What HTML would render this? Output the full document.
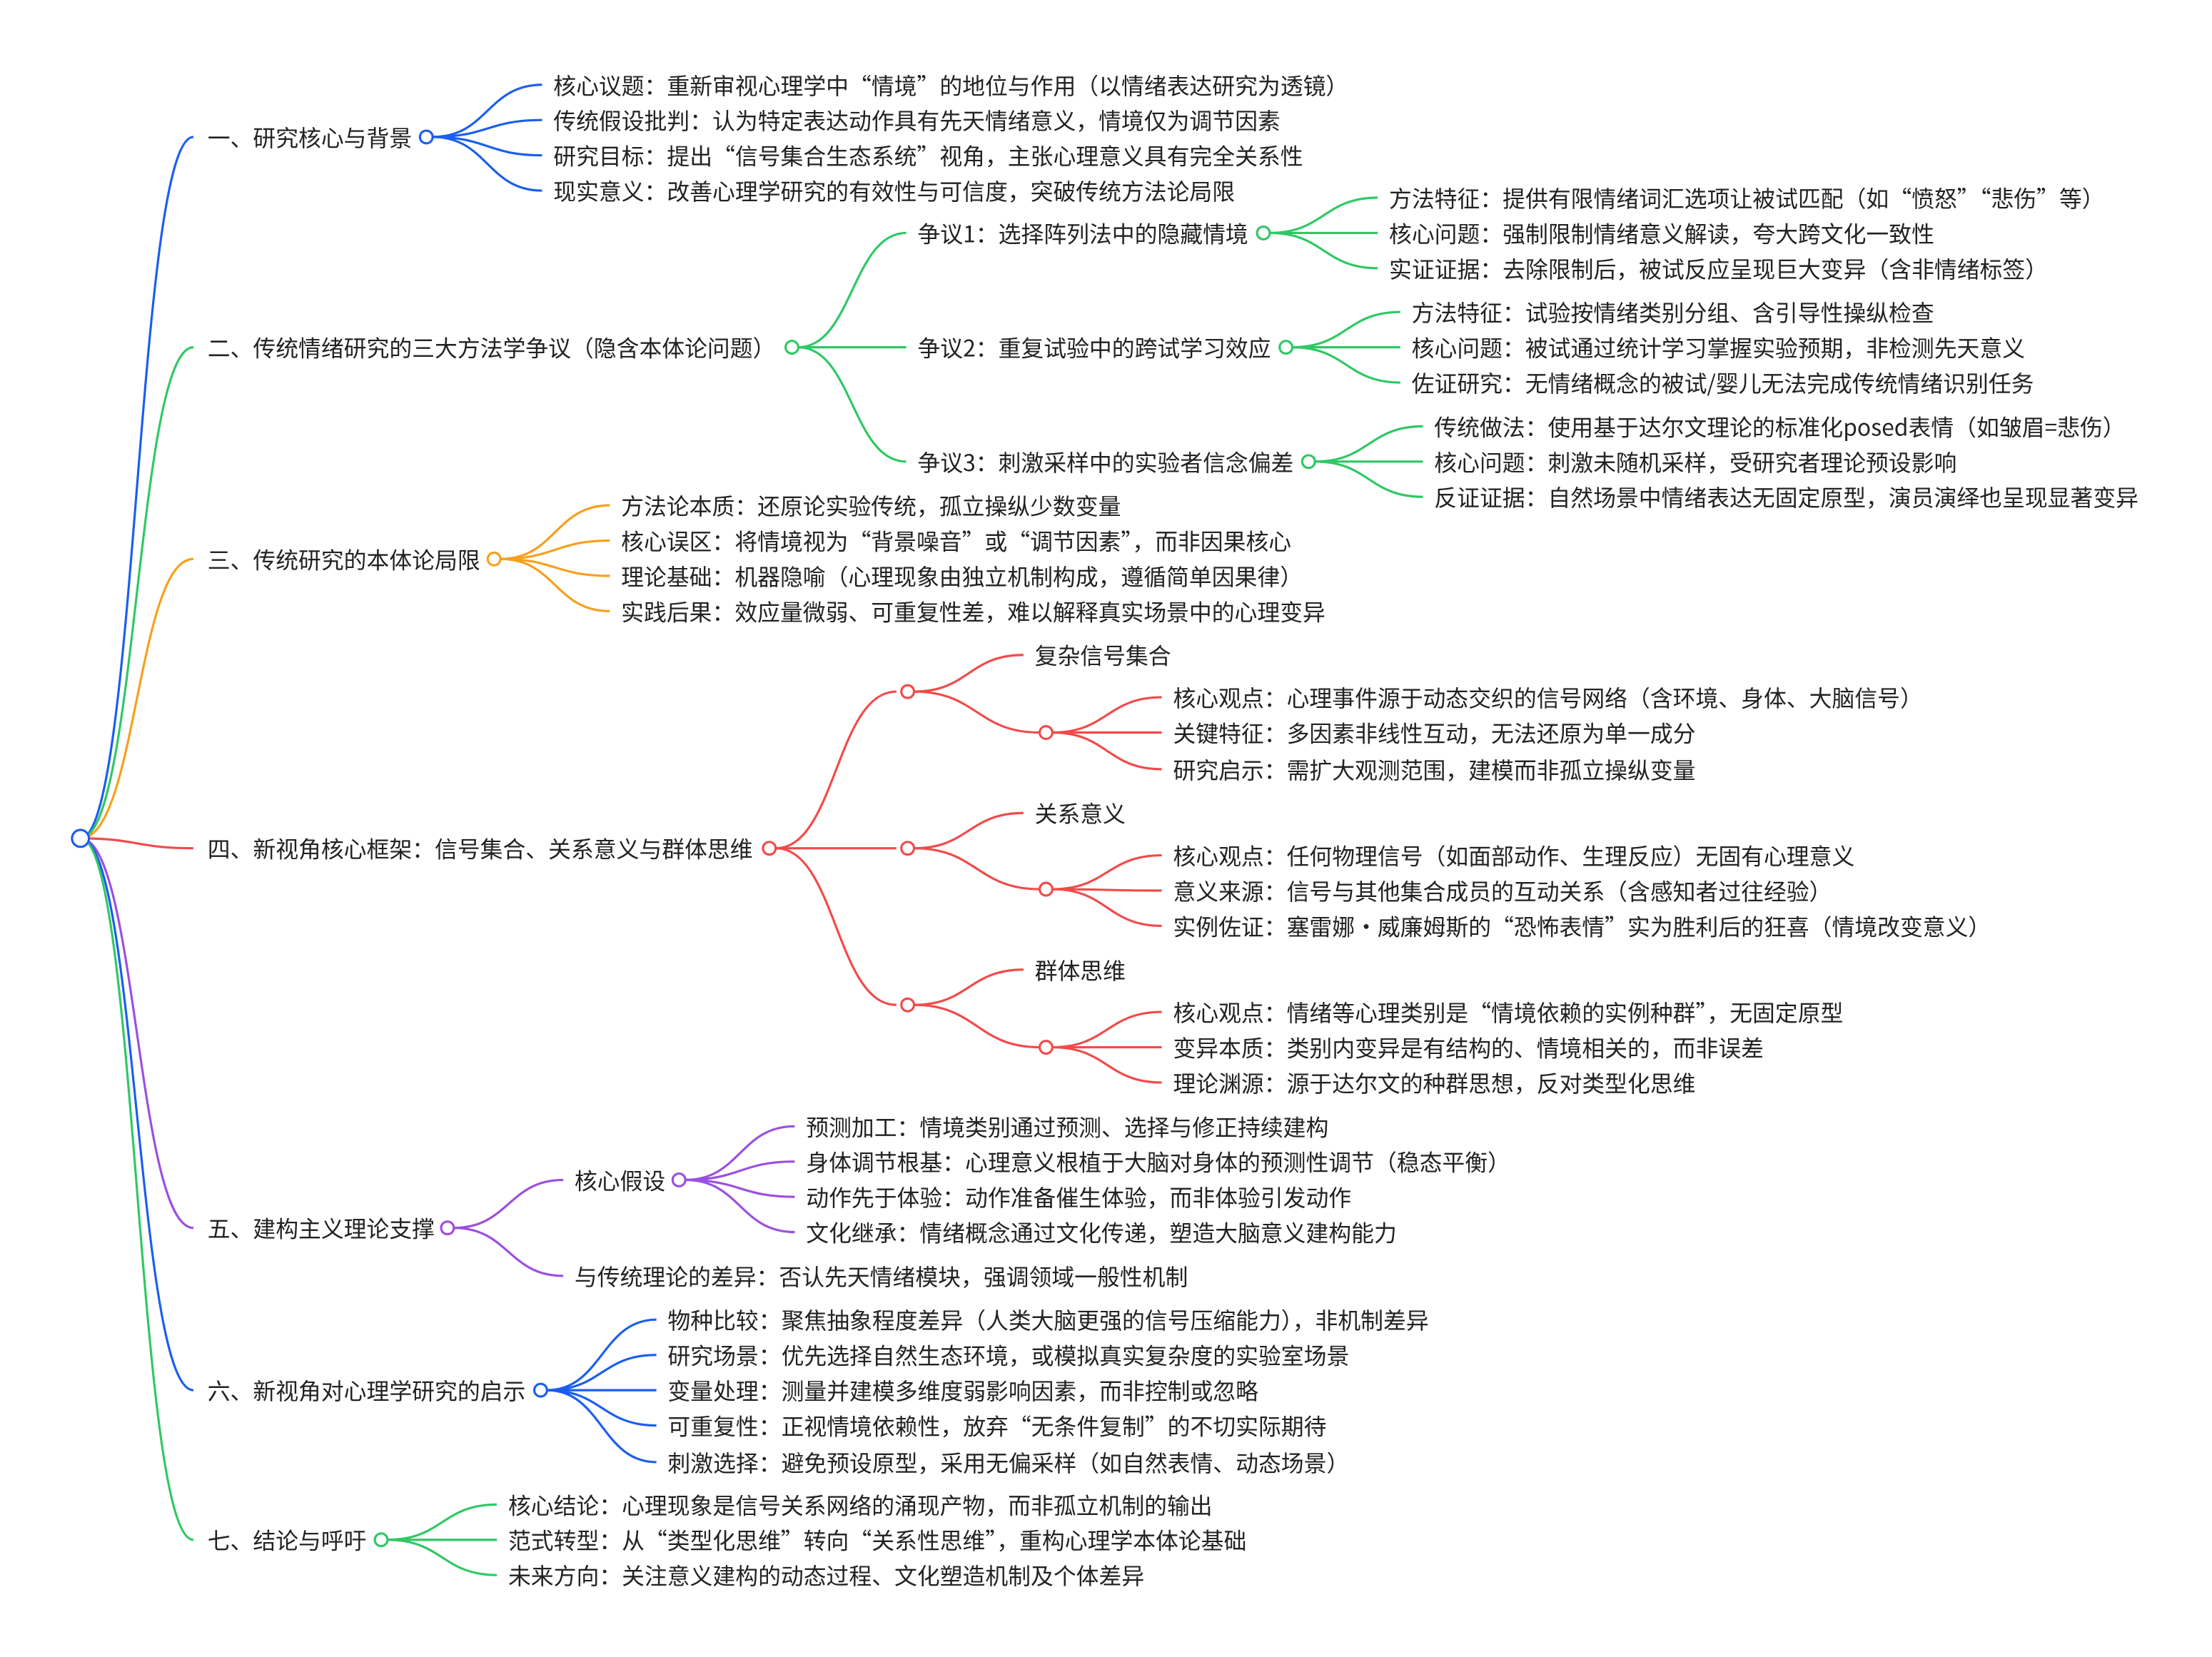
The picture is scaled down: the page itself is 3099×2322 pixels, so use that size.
<!DOCTYPE html>
<html><head><meta charset="utf-8"><style>
html,body{margin:0;padding:0;background:#fff;}
svg{display:block}
text{font-family:"Noto Sans CJK SC","Liberation Sans",sans-serif;font-size:16.1px;fill:#222;dominant-baseline:central}
</style></head><body>
<svg id="s" width="3099" height="2322" viewBox="0 0 1567 1174" xmlns="http://www.w3.org/2000/svg">
<g id="lines" fill="none" stroke-width="1.6"></g>
<g id="circ" fill="#fff" stroke-width="1.6"></g>
<text x="147" y="97">一、研究核心与背景</text>
<text x="392" y="60">核心议题：重新审视心理学中“情境”的地位与作用（以情绪表达研究为透镜）</text>
<text x="392" y="85">传统假设批判：认为特定表达动作具有先天情绪意义，情境仅为调节因素</text>
<text x="392" y="110">研究目标：提出“信号集合生态系统”视角，主张心理意义具有完全关系性</text>
<text x="392" y="135">现实意义：改善心理学研究的有效性与可信度，突破传统方法论局限</text>
<text x="147" y="246">二、传统情绪研究的三大方法学争议（隐含本体论问题）</text>
<text x="650" y="165">争议1：选择阵列法中的隐藏情境</text>
<text x="650" y="246">争议2：重复试验中的跨试学习效应</text>
<text x="650" y="327">争议3：刺激采样中的实验者信念偏差</text>
<text x="984" y="140">方法特征：提供有限情绪词汇选项让被试匹配（如“愤怒”“悲伤”等）</text>
<text x="984" y="165">核心问题：强制限制情绪意义解读，夸大跨文化一致性</text>
<text x="984" y="190">实证证据：去除限制后，被试反应呈现巨大变异（含非情绪标签）</text>
<text x="1000" y="221">方法特征：试验按情绪类别分组、含引导性操纵检查</text>
<text x="1000" y="246">核心问题：被试通过统计学习掌握实验预期，非检测先天意义</text>
<text x="1000" y="271">佐证研究：无情绪概念的被试/婴儿无法完成传统情绪识别任务</text>
<text x="1016" y="302">传统做法：使用基于达尔文理论的标准化posed表情（如皱眉=悲伤）</text>
<text x="1016" y="327">核心问题：刺激未随机采样，受研究者理论预设影响</text>
<text x="1016" y="352">反证证据：自然场景中情绪表达无固定原型，演员演绎也呈现显著变异</text>
<text x="147" y="396">三、传统研究的本体论局限</text>
<text x="440" y="358">方法论本质：还原论实验传统，孤立操纵少数变量</text>
<text x="440" y="383">核心误区：将情境视为“背景噪音”或“调节因素”，而非因果核心</text>
<text x="440" y="408">理论基础：机器隐喻（心理现象由独立机制构成，遵循简单因果律）</text>
<text x="440" y="433">实践后果：效应量微弱、可重复性差，难以解释真实场景中的心理变异</text>
<text x="147" y="601">四、新视角核心框架：信号集合、关系意义与群体思维</text>
<text x="733" y="464">复杂信号集合</text>
<text x="831" y="494">核心观点：心理事件源于动态交织的信号网络（含环境、身体、大脑信号）</text>
<text x="831" y="519">关键特征：多因素非线性互动，无法还原为单一成分</text>
<text x="831" y="545">研究启示：需扩大观测范围，建模而非孤立操纵变量</text>
<text x="733" y="576">关系意义</text>
<text x="831" y="606">核心观点：任何物理信号（如面部动作、生理反应）无固有心理意义</text>
<text x="831" y="631">意义来源：信号与其他集合成员的互动关系（含感知者过往经验）</text>
<text x="831" y="656">实例佐证：塞雷娜・威廉姆斯的“恐怖表情”实为胜利后的狂喜（情境改变意义）</text>
<text x="733" y="687">群体思维</text>
<text x="831" y="717">核心观点：情绪等心理类别是“情境依赖的实例种群”，无固定原型</text>
<text x="831" y="742">变异本质：类别内变异是有结构的、情境相关的，而非误差</text>
<text x="831" y="767">理论渊源：源于达尔文的种群思想，反对类型化思维</text>
<text x="147" y="870">五、建构主义理论支撑</text>
<text x="407" y="836">核心假设</text>
<text x="407" y="904">与传统理论的差异：否认先天情绪模块，强调领域一般性机制</text>
<text x="571" y="798">预测加工：情境类别通过预测、选择与修正持续建构</text>
<text x="571" y="823">身体调节根基：心理意义根植于大脑对身体的预测性调节（稳态平衡）</text>
<text x="571" y="848">动作先于体验：动作准备催生体验，而非体验引发动作</text>
<text x="571" y="873">文化继承：情绪概念通过文化传递，塑造大脑意义建构能力</text>
<text x="147" y="985">六、新视角对心理学研究的启示</text>
<text x="473" y="935">物种比较：聚焦抽象程度差异（人类大脑更强的信号压缩能力），非机制差异</text>
<text x="473" y="960">研究场景：优先选择自然生态环境，或模拟真实复杂度的实验室场景</text>
<text x="473" y="985">变量处理：测量并建模多维度弱影响因素，而非控制或忽略</text>
<text x="473" y="1010">可重复性：正视情境依赖性，放弃“无条件复制”的不切实际期待</text>
<text x="473" y="1036">刺激选择：避免预设原型，采用无偏采样（如自然表情、动态场景）</text>
<text x="147" y="1091">七、结论与呼吁</text>
<text x="360" y="1066">核心结论：心理现象是信号关系网络的涌现产物，而非孤立机制的输出</text>
<text x="360" y="1091">范式转型：从“类型化思维”转向“关系性思维”，重构心理学本体论基础</text>
<text x="360" y="1116">未来方向：关注意义建构的动态过程、文化塑造机制及个体差异</text>
</svg>
<script>
var L=document.getElementById('lines'),C=document.getElementById('circ'),NS='http://www.w3.org/2000/svg';
function p(x0,y0,x1,y1,c){var m=(x0+x1)/2,e=document.createElementNS(NS,'path');e.setAttribute('d','M'+x0+' '+y0+' C'+m+' '+y0+','+m+' '+y1+','+x1+' '+y1);e.setAttribute('stroke',c);L.appendChild(e);}
function ci(x,y,c,r){var e=document.createElementNS(NS,'circle');e.setAttribute('cx',x);e.setAttribute('cy',y);e.setAttribute('r',r||4.5);e.setAttribute('stroke',c);C.appendChild(e);}
function fan(cx,cy,tx,ys,c){ci(cx,cy,c);ys.forEach(function(y){p(cx+4.5,cy,tx-8,y,c);});}
var B='#1a5ef0',G='#2fc865',O='#f7a01a',R='#f24a4a',P='#9b4fe0';
var root=[[97,B],[246,G],[396,O],[601,R],[870,P],[985,B],[1091,G]];
root.forEach(function(a){p(57,594,137,a[0],a[1]);});
ci(57,594,B,6);
fan(302,97,392,[60,85,110,135],B);
fan(561,246,650,[165,246,327],G);
fan(895,165,984,[140,165,190],G);
fan(911,246,1000,[221,246,271],G);
fan(927,327,1016,[302,327,352],G);
fan(350,396,440,[358,383,408,433],O);
fan(545,601,643,[490,601,712],R);
[[490,464,519,[494,519,545]],[601,576,630,[606,631,656]],[712,687,742,[717,742,767]]].forEach(function(a){
 ci(643,a[0],R);p(647.5,a[0],725,a[1],R);p(647.5,a[0],736.5,a[2],R);fan(741,a[2],831,a[3],R);});
fan(317,870,407,[836,904],P);
fan(481,836,571,[798,823,848,873],P);
fan(383,985,473,[935,960,985,1010,1036],B);
fan(270,1091,360,[1066,1091,1116],G);
</script>
</body></html>
